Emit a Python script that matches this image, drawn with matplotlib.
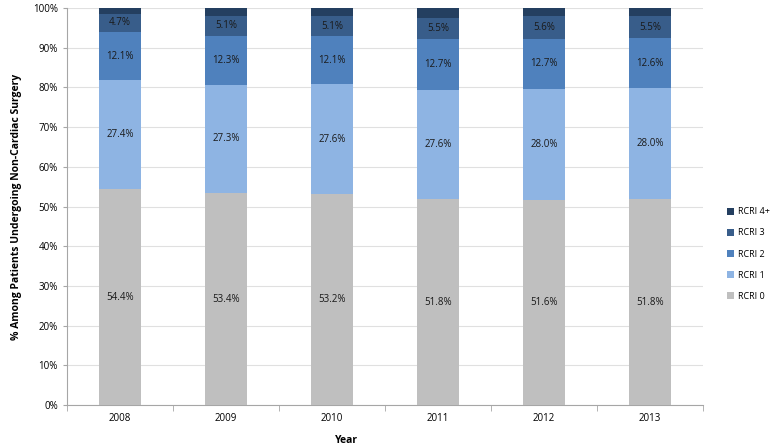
import numpy as np
import matplotlib.pyplot as plt

years = ['2008', '2009', '2010', '2011', '2012', '2013']
rcri0 = [54.4, 53.4, 53.2, 51.8, 51.6, 51.8]
rcri1 = [27.4, 27.3, 27.6, 27.6, 28.0, 28.0]
rcri2 = [12.1, 12.3, 12.1, 12.7, 12.7, 12.6]
rcri3 = [4.7, 5.1, 5.1, 5.5, 5.6, 5.5]
rcri4 = [1.4, 1.9, 2.0, 2.4, 2.1, 2.1]

labels = ['RCRI 0', 'RCRI 1', 'RCRI 2', 'RCRI 3', 'RCRI 4+']
colors = ['#BFBFBF', '#8EB4E3', '#4F81BD', '#385D8A', '#243F60']
series = [rcri0, rcri1, rcri2, rcri3, rcri4]
show_text = [True, True, True, True, False]

plt.rcParams['font.family'] = ['Open Sans', 'DejaVu Sans']

fig = plt.figure(figsize=(7.73, 4.47), dpi=100)
ax = fig.add_axes([0.0867, 0.094, 0.823, 0.888])

X = np.arange(len(years))
bottom = np.zeros(len(years))
handles = []
for vals, lab, col, st in zip(series, labels, colors, show_text):
    vals = np.array(vals)
    b = ax.bar(X, vals, bottom=bottom, width=0.4, color=col, label=lab, zorder=3)
    handles.append(b)
    if st:
        for x, v, bt in zip(X, vals, bottom):
            ax.text(x, bt + v / 2, '%.1f%%' % v, ha='center', va='center',
                    fontsize=7, color='#1a1a1a', zorder=4)
    bottom += vals

ax.set_xlim(-0.5, len(years) - 0.5)
ax.set_ylim(0, 100)
ax.set_yticks(np.arange(0, 101, 10))
ax.set_yticklabels(['%d%%' % v for v in range(0, 101, 10)])
ax.set_xticks(X)
ax.set_xticklabels(years)
ax.set_xticks(np.arange(-0.5, len(years), 1), minor=True)
ax.tick_params(axis='x', which='major', length=0, labelsize=7, pad=6)
ax.tick_params(axis='x', which='minor', length=4, color='#A6A6A6')
ax.tick_params(axis='y', length=3, color='#A6A6A6', labelsize=7)
ax.grid(axis='y', color='#E0E0E0', linewidth=0.8, zorder=0)
for s in ['top', 'right']:
    ax.spines[s].set_visible(False)
for s in ['left', 'bottom']:
    ax.spines[s].set_color('#A6A6A6')

ax.set_ylabel('% Among Patients Undergoing Non-Cardiac Surgery', fontsize=7.5, fontweight='bold')
ax.yaxis.set_label_coords(-0.07, 0.5)
ax.set_xlabel('Year', fontsize=7.5, fontweight='bold')
ax.xaxis.set_label_coords(0.44, -0.075)

leg = ax.legend(handles[::-1], labels[::-1], loc='center left', bbox_to_anchor=(1.025, 0.38),
                frameon=False, fontsize=6.5, handlelength=0.8, handleheight=0.8,
                handletextpad=0.4, labelspacing=1.35)

plt.savefig('out.png', dpi=100)
